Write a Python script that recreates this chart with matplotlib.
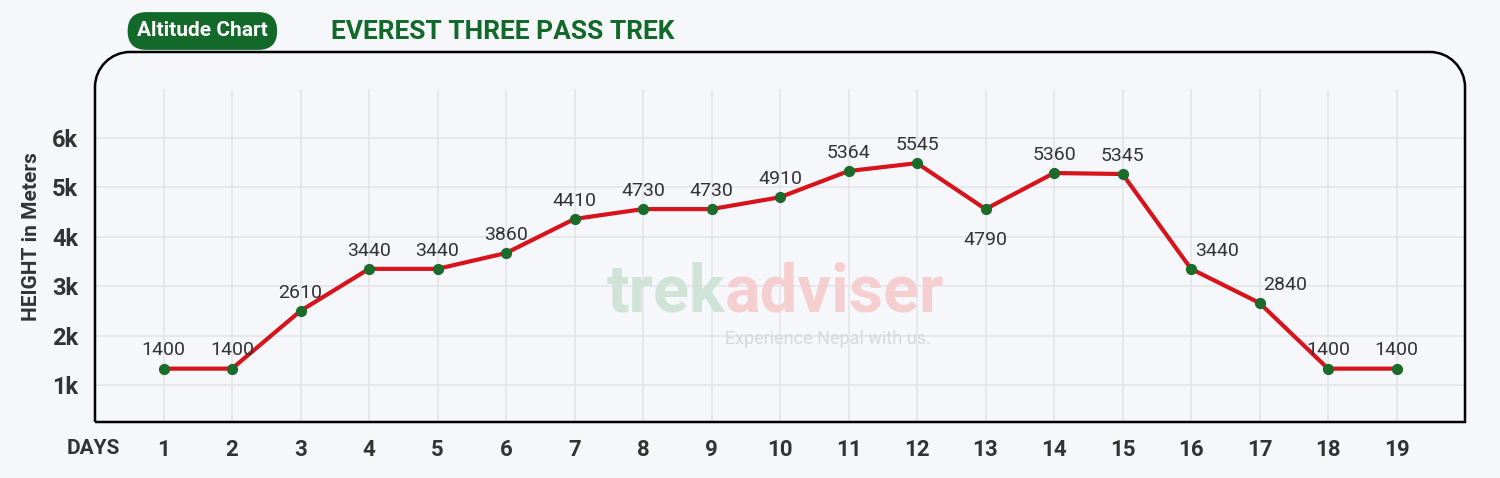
import matplotlib.pyplot as plt
from matplotlib.path import Path
from matplotlib.patches import PathPatch

days = list(range(1, 20))
labels = [1400, 1400, 2610, 3440, 3440, 3860, 4410, 4730, 4730, 4910, 5364, 5545, 4790, 5360, 5345, 3440, 2840, 1400, 1400]
plotted = [1330, 1330, 2500, 3350, 3350, 3670, 4360, 4560, 4560, 4800, 5330, 5490, 4560, 5290, 5270, 3350, 2660, 1330, 1330]
yticks = [1000, 2000, 3000, 4000, 5000, 6000]
ytick_labels = ['1k', '2k', '3k', '4k', '5k', '6k']

plt.rcParams['font.family'] = ['Roboto', 'DejaVu Sans']
bg = '#f5f7fb'
W, H = 1500, 478
fig = plt.figure(figsize=(15, 4.78), dpi=100, facecolor=bg)
ax = fig.add_axes([95/W, 1-422/H, 1370/W, 370/H])
ax.set_facecolor(bg)
ax.set_xlim(0, 20)
ax.set_ylim(250, 7740)
for s in ax.spines.values():
    s.set_visible(False)

x0, x1, yb, yt, r = 95, 1465, H-422, H-52, 35
k = 0.55
verts = [(x0, yb), (x0, yt-r), (x0, yt-r+k*r), (x0+r-k*r, yt), (x0+r, yt),
         (x1-r, yt), (x1-r+k*r, yt), (x1, yt-r+k*r), (x1, yt-r), (x1, yb), (x0, yb)]
codes = [Path.MOVETO, Path.LINETO, Path.CURVE4, Path.CURVE4, Path.CURVE4,
         Path.LINETO, Path.CURVE4, Path.CURVE4, Path.CURVE4, Path.LINETO, Path.LINETO]
verts = [(vx/W, vy/H) for vx, vy in verts]
fig.patches.append(PathPatch(Path(verts, codes), transform=fig.transFigure, fill=False, ec='black', lw=1.8))

ax.vlines(days, 250, 7000, color='#e3e5ea', lw=1.2, zorder=0)
ax.hlines(yticks, 0, 20, color='#e3e5ea', lw=1.2, zorder=0)

ax.text(9.2, 2850, 'trek', fontsize=48, fontweight='bold', color='#cfe3d6', ha='right', va='center', zorder=0)
ax.text(9.2, 2850, 'adviser', fontsize=48, fontweight='bold', color='#f5cfd0', ha='left', va='center', zorder=0)
ax.text(10.7, 1930, 'Experience Nepal with us.', fontsize=13, color='#d8d8d8', ha='center', va='center', zorder=0)

ax.plot(days, plotted, color='#d7141b', lw=3, zorder=3)
ax.scatter(days, plotted, s=50, color='#1b6b2a', zorder=4)
for d, p, l in zip(days, plotted, labels):
    off = -620 if d == 13 else 370
    dx = 0.38 if d in (16, 17) else 0.0
    ax.text(d + dx, p + off, str(l), ha='center', va='center', fontsize=14, color='#333333', zorder=5)

ax.set_xticks(days)
ax.set_xticklabels([str(d) for d in days], fontsize=16, fontweight='bold', color='#333333')
ax.set_yticks(yticks)
ax.set_yticklabels(ytick_labels, fontsize=17, fontweight='bold', color='#333333')
ax.tick_params(length=0, pad=12)
ax.set_ylabel('HEIGHT in Meters', fontsize=15, fontweight='bold', color='#333333', labelpad=8)
fig.text(67/W, 1-449/H, 'DAYS', fontsize=15, fontweight='bold', color='#333333', va='center')

fig.text(137/W, 1-31/H, 'Altitude Chart', fontsize=15, fontweight='bold', color='white', va='center',
         bbox=dict(boxstyle='round,pad=0.45,rounding_size=0.9', fc='#13692a', ec='none'))
fig.text(331/W, 1-32/H, 'EVEREST THREE PASS TREK', fontsize=19, fontweight='bold', color='#13692a', va='center')

fig.savefig('out.png', dpi=100, facecolor=bg)
